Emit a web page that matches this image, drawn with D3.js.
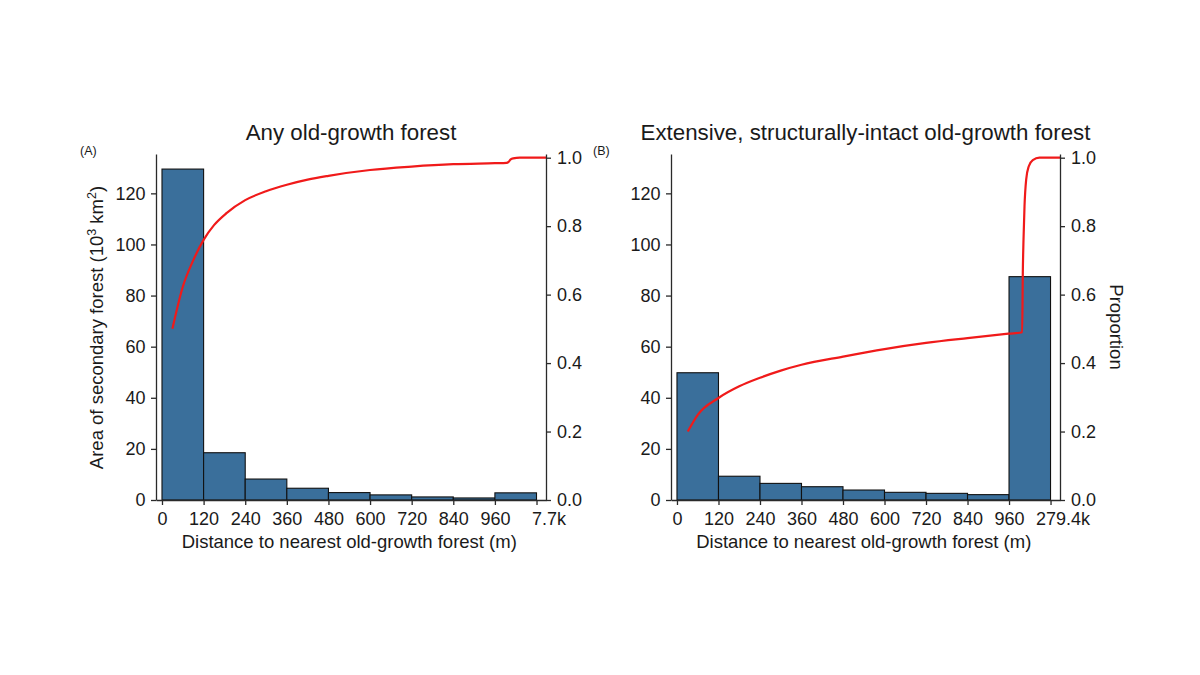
<!DOCTYPE html>
<html>
<head>
<meta charset="utf-8">
<script src="https://cdn.jsdelivr.net/npm/d3@7"></script>
<style>
  html, body { margin: 0; padding: 0; background: #fff; }
  text { font-family: "Liberation Sans", Arial, Helvetica, sans-serif; fill: #1a1a1a; }
</style>
</head>
<body>
<svg id="chart" width="1200" height="675"></svg>
<script>
// ---------- DATA ----------
const tickLabelsA = ["0", "120", "240", "360", "480", "600", "720", "840", "960", "7.7k"];
const tickLabelsB = ["0", "120", "240", "360", "480", "600", "720", "840", "960", "279.4k"];

// Area of secondary forest per distance bin (10^3 km^2)
const areaA = [129.5, 18.5, 8.2, 4.6, 2.9, 2.0, 1.2, 0.8, 2.8];
const areaB = [49.8, 9.3, 6.5, 5.2, 3.9, 3.0, 2.6, 2.1, 87.4];

// Cumulative proportion curve: position (in bin units along the axis) and proportion
const cdfPosA = [0.25, 0.5, 0.75, 1.0, 1.25, 1.55, 2.0, 2.5, 3.0, 3.5, 4.0, 5.0, 6.0, 7.0, 8.0, 8.28, 8.33, 8.38, 8.44, 8.6, 9.228];
const cdfA    = [0.50, 0.623, 0.70, 0.76, 0.803, 0.838, 0.876, 0.902, 0.921, 0.936, 0.947, 0.964, 0.974, 0.981, 0.984, 0.985, 0.988, 0.995, 0.998, 1.0, 1.0];

const cdfPosB = [0.26, 0.5, 1.0, 1.5, 2.0, 2.5, 3.0, 4.0, 5.0, 6.0, 7.0, 8.0, 8.317, 8.332, 8.349, 8.373, 8.413, 8.476, 8.572, 8.733, 9.228];
const cdfB    = [0.20, 0.249, 0.298, 0.332, 0.357, 0.378, 0.395, 0.419, 0.441, 0.459, 0.473, 0.486, 0.49, 0.663, 0.761, 0.858, 0.936, 0.975, 0.993, 1.0, 1.0];

const leftTicks = [0, 20, 40, 60, 80, 100, 120];
const rightTicks = [0, 0.2, 0.4, 0.6, 0.8, 1.0];

const titles = ["Any old-growth forest", "Extensive, structurally-intact old-growth forest"];
const panelTags = ["(A)", "(B)"];

// ---------- DRAW ----------
const svg = d3.select("#chart");
svg.append("rect").attr("width", 1200).attr("height", 675).attr("fill", "#fff");

const AXIS_COLOR = "#2a2a2a";
const BAR_FILL = "#3a6f9b";
const LINE_COLOR = "#f01a1a";
const FONT = '"Liberation Sans", Arial, Helvetica, sans-serif';

const panels = [
  { left: 156, right: 546, labels: tickLabelsA, area: areaA, pos: cdfPosA, cdf: cdfA, title: titles[0], tag: panelTags[0], tagX: 80, yLabel: true, rLabel: false },
  { left: 671, right: 1060, labels: tickLabelsB, area: areaB, pos: cdfPosB, cdf: cdfB, title: titles[1], tag: panelTags[1], tagX: 593, yLabel: false, rLabel: true }
];

const plotTop = 154, plotBottom = 500;

panels.forEach(p => {
  const g = svg.append("g");
  const x = d3.scaleLinear().domain([-0.144, 9.228]).range([p.left, p.right]);
  const yL = d3.scaleLinear().domain([0, 135.4]).range([plotBottom, plotTop]);
  const yR = d3.scaleLinear().domain([0, 1.0108]).range([plotBottom, plotTop]);

  // bars
  g.append("g").selectAll("rect").data(p.area).join("rect")
    .attr("x", (d, i) => x(i))
    .attr("width", (d, i) => x(i + 1) - x(i))
    .attr("y", d => yL(d))
    .attr("height", d => yL(0) - yL(d))
    .attr("fill", BAR_FILL)
    .attr("stroke", "#111")
    .attr("stroke-width", 1.1);

  // cumulative proportion line
  const pts = p.pos.map((v, i) => [v, p.cdf[i]]);
  g.append("path")
    .datum(pts)
    .attr("fill", "none")
    .attr("stroke", LINE_COLOR)
    .attr("stroke-width", 2.2)
    .attr("stroke-linejoin", "round")
    .attr("d", d3.line().x(d => x(d[0])).y(d => yR(d[1])).curve(d3.curveMonotoneX));

  // axes
  const axB = g.append("g").attr("transform", `translate(0,${plotBottom})`)
    .call(d3.axisBottom(x).tickValues(d3.range(10)).tickFormat(i => p.labels[i])
      .tickSize(5).tickSizeOuter(0).tickPadding(7));
  const axL = g.append("g").attr("transform", `translate(${p.left},0)`)
    .call(d3.axisLeft(yL).tickValues(leftTicks).tickSize(5).tickSizeOuter(0).tickPadding(5.5));
  const axR = g.append("g").attr("transform", `translate(${p.right},0)`)
    .call(d3.axisRight(yR).tickValues(rightTicks).tickFormat(d3.format(".1f"))
      .tickSize(5).tickSizeOuter(0).tickPadding(6));

  [axB, axL, axR].forEach(a => {
    a.selectAll("path, line").attr("stroke", AXIS_COLOR).attr("stroke-width", 1.3);
    a.selectAll("text").attr("font-size", "18px").attr("fill", "#1a1a1a").attr("font-family", FONT);
  });
  // the last (open-ended) bin label sits a little to the right of its tick
  axB.selectAll(".tick text").filter(d => d === 9).attr("dx", 12);

  // title
  g.append("text")
    .attr("x", (p.left + p.right) / 2).attr("y", 139.5)
    .attr("text-anchor", "middle").attr("font-size", "22.3px")
    .text(p.title);

  // panel tag
  g.append("text").attr("x", p.tagX).attr("y", 155).attr("font-size", "12.5px").text(p.tag);

  // x axis label
  g.append("text")
    .attr("x", (x(0) + x(9)) / 2).attr("y", 547.5)
    .attr("text-anchor", "middle").attr("font-size", "18.5px")
    .text("Distance to nearest old-growth forest (m)");

  if (p.yLabel) {
    const t = g.append("text")
      .attr("transform", "translate(103,327.5) rotate(-90)")
      .attr("text-anchor", "middle").attr("font-size", "18.5px");
    t.append("tspan").text("Area of secondary forest (10");
    t.append("tspan").attr("dy", -7).attr("font-size", "12.5px").text("3");
    t.append("tspan").attr("dy", 7).text(" km");
    t.append("tspan").attr("dy", -7).attr("font-size", "12.5px").text("2");
    t.append("tspan").attr("dy", 7).text(")");
  }
  if (p.rLabel) {
    g.append("text")
      .attr("transform", "translate(1110,327) rotate(90)")
      .attr("text-anchor", "middle").attr("font-size", "18.5px")
      .text("Proportion");
  }
});
</script>
</body>
</html>
